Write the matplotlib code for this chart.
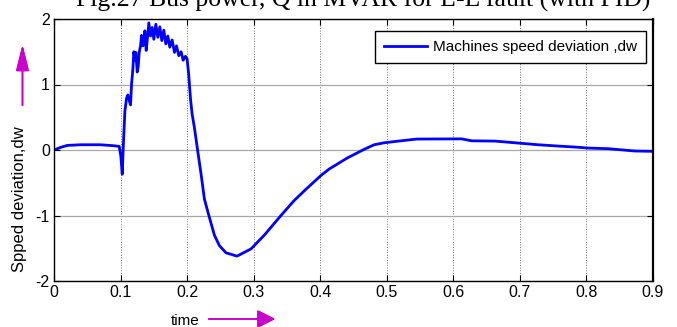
import matplotlib
matplotlib.use('Agg')
import matplotlib.pyplot as plt
import numpy as np

# machine speed deviation
t = [0.000, 0.010, 0.020, 0.040, 0.070, 0.090, 0.098, 0.1005, 0.1025, 0.104,
     0.1065, 0.109, 0.111, 0.1135, 0.115, 0.1165, 0.1185, 0.120, 0.1215, 0.123,
     0.125, 0.1265, 0.128, 0.130, 0.1315, 0.1335, 0.135, 0.1365, 0.1385, 0.140,
     0.1425, 0.145, 0.1475, 0.150, 0.153, 0.156, 0.159, 0.162, 0.165, 0.168,
     0.171, 0.174, 0.1775, 0.181, 0.184, 0.1875, 0.191, 0.194, 0.1975, 0.200,
     0.2025, 0.205, 0.2075, 0.211, 0.216, 0.221, 0.226, 0.2335, 0.241, 0.2485,
     0.2585, 0.275, 0.296, 0.316, 0.341, 0.361, 0.3785, 0.401, 0.4135, 0.441,
     0.466, 0.481, 0.496, 0.521, 0.545, 0.6125, 0.6275, 0.6625, 0.6975, 0.7275,
     0.7575, 0.7825, 0.8025, 0.8325, 0.8725, 0.900]
dw = [0.00, 0.04, 0.07, 0.08, 0.08, 0.065, 0.055, -0.10, -0.37, 0.03,
      0.59, 0.79, 0.84, 0.74, 0.69, 1.00, 1.24, 1.50, 1.37, 1.49,
      1.19, 1.27, 1.49, 1.59, 1.75, 1.59, 1.68, 1.82, 1.52, 1.67,
      1.94, 1.74, 1.87, 1.69, 1.92, 1.72, 1.88, 1.67, 1.83, 1.62,
      1.74, 1.57, 1.68, 1.49, 1.59, 1.44, 1.50, 1.37, 1.43, 1.39,
      1.14, 0.79, 0.55, 0.34, -0.02, -0.37, -0.75, -1.03, -1.30, -1.46,
      -1.57, -1.62, -1.51, -1.30, -1.00, -0.77, -0.60, -0.39, -0.29, -0.12,
      0.01, 0.08, 0.11, 0.14, 0.167, 0.17, 0.14, 0.136, 0.106, 0.08,
      0.06, 0.045, 0.03, 0.02, -0.015, -0.02]

x_ticks = [0, 0.1, 0.2, 0.3, 0.4, 0.5, 0.6, 0.7, 0.8, 0.9]
x_tick_labels = ['0', '0.1', '0.2', '0.3', '0.4', '0.5', '0.6', '0.7', '0.8', '0.9']
y_ticks = [-2, -1, 0, 1, 2]
y_tick_labels = ['-2', '-1', '0', '1', '2']

plt.rcParams['axes.unicode_minus'] = False
sans = 'Liberation Sans'
magenta = '#cc00cc'

fig = plt.figure(figsize=(6.77, 3.27), dpi=100)
ax = fig.add_axes([54 / 677, 1 - 281 / 327, 599 / 677, 262 / 327])

ax.plot(t, dw, color='blue', lw=2.0, label='Machines speed deviation ,dw')
ax.set_xlim(0, 0.9)
ax.set_ylim(-2, 2)
ax.set_xticks(x_ticks)
ax.set_xticklabels(x_tick_labels)
ax.set_yticks(y_ticks)
ax.set_yticklabels(y_tick_labels)
for lab in ax.get_xticklabels() + ax.get_yticklabels():
    lab.set_family(sans)
    lab.set_fontsize(11.5)
ax.tick_params(direction='in', length=4, top=True, right=True, pad=3)

# matlab style grid
ax.yaxis.grid(True, color='#a8a8a8', lw=0.9, ls='-')
ax.xaxis.grid(True, color='#707070', lw=0.7, ls=':')
for sp in ax.spines.values():
    sp.set_color('black')
    sp.set_linewidth(1.0)
ax.spines['right'].set_linewidth(1.6)

leg = ax.legend(loc='upper right', bbox_to_anchor=(646 / 677, 1 - 31 / 327),
                bbox_transform=fig.transFigure, prop={'family': sans, 'size': 11},
                fancybox=False, framealpha=1, edgecolor='black',
                borderpad=0.6, handlelength=2.8, handletextpad=0.4, borderaxespad=0)
leg.get_frame().set_linewidth(1.0)

# title is cut at the top edge of the picture, as in the reference
fig.text(363 / 677, 1 - 7 / 327, 'Fig.27 Bus power, Q in MVAR for L-L fault (with PID)',
         family='Liberation Serif', fontsize=18.5, ha='center', va='baseline')

fig.text(20 / 677, 1 - 199 / 327, 'Spped deviation,dw', rotation=90,
         family=sans, fontsize=12, ha='center', va='center')
fig.text(185 / 677, 1 - 321 / 327, 'time', family=sans, fontsize=11,
         ha='center', va='center')

# magenta arrows next to the axis labels
fig.add_artist(plt.annotate('', xy=(22.5 / 677, 1 - 42 / 327), xytext=(22.5 / 677, 1 - 108 / 327),
                            xycoords='figure fraction', textcoords='figure fraction',
                            arrowprops=dict(arrowstyle='-|>,head_length=1.6,head_width=0.4',
                                            color=magenta, lw=1.2)))
fig.add_artist(plt.annotate('', xy=(278 / 677, 1 - 319 / 327), xytext=(206 / 677, 1 - 319 / 327),
                            xycoords='figure fraction', textcoords='figure fraction',
                            arrowprops=dict(arrowstyle='-|>,head_length=1.1,head_width=0.55',
                                            color=magenta, lw=1.2)))

fig.savefig('out.png', dpi=100)
